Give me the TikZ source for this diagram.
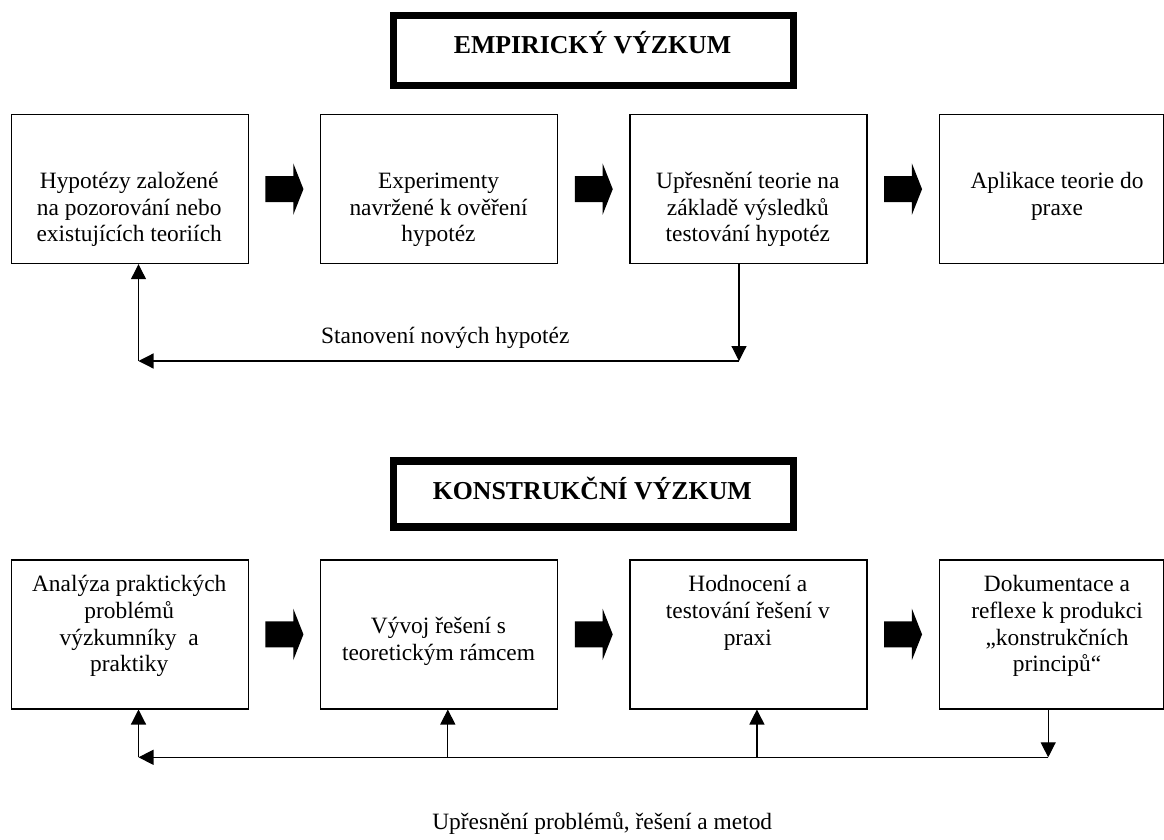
\documentclass[tikz,border=0pt]{standalone}
\usepackage{fontspec}
\setmainfont{Liberation Serif}
\usetikzlibrary{arrows.meta,calc}
\newcommand{\mylines}[1]{\begin{tabular}[t]{@{}c@{}}#1\end{tabular}}
\begin{document}
\begin{tikzpicture}[x=1pt,y=-1pt,
  box/.style={draw,line width=1.2pt,minimum width=237pt,minimum height=149pt,inner sep=0pt,anchor=north west},
  titlebox/.style={draw,line width=7.6pt,minimum width=400pt,inner sep=0pt},
  txt/.style={font=\fontsize{23.4}{26.7}\selectfont,anchor=base,inner sep=0pt},
  ttl/.style={font=\fontsize{25.8}{30}\selectfont\bfseries,anchor=base,inner sep=0pt},
  fb/.style={line width=1.2pt,-{Triangle[length=15pt,width=15pt]}},
  blockarrow/.pic={\fill (-19,13) -- (8.8,13) -- (8.8,25.8) -- (19,0) -- (8.8,-25.8) -- (8.8,-13) -- (-19,-13) -- cycle;}]
\fill[white] (0,0) rectangle (1164,840);
\useasboundingbox (0,0) rectangle (1164,840);

% ---------- EMPIRICKY VYZKUM ----------
\node[titlebox,minimum height=70pt] (t1) at (593.3,50.5) {};
\node[ttl] (t1txt) at (592.5,53.3) {EMPIRICKÝ VÝZKUM};

\node[box] (b1) at (10.7,114) {};
\node[box] (b2) at (320,114) {};
\node[box] (b3) at (629.3,114) {};
\node[box,minimum width=224.4pt] (b4) at (938.6,114) {};

\node[txt] (b1t) at (129.2,188.3) {\mylines{Hypotézy založené\\na pozorování nebo\\existujících teoriích}};
\node[txt] (b2t) at (438.5,188.3) {\mylines{Experimenty\\navržené k ověření\\hypotéz}};
\node[txt] (b3t) at (747.8,188.3) {\mylines{Upřesnění teorie na\\základě výsledků\\testování hypotéz}};
\node[txt] (b4t) at (1057,188.3) {\mylines{Aplikace teorie do\\praxe}};

\path ($(b1.east)!0.5!(b2.west)$) pic {blockarrow};
\path ($(b2.east)!0.5!(b3.west)$) pic {blockarrow};
\path ($(b3.east)!0.5!(b4.west)$) pic {blockarrow};

\coordinate (fa) at (739,361);
\coordinate (fb) at (138.5,361);
\draw[fb] (b3.south -| fa) -- (fa);
\draw[fb] (fa) -- (fb);
\draw[fb] (fb) -- (b1.south -| fb);
\node[txt] (lab1) at (445.3,343.3) {Stanovení nových hypotéz};

% ---------- KONSTRUKCNI VYZKUM ----------
\node[titlebox,minimum height=66pt] (t2) at (593.3,493.7) {};
\node[ttl] (t2txt) at (592.3,499.3) {KONSTRUKČNÍ VÝZKUM};

\node[box] (c1) at (10.7,559.3) {};
\node[box] (c2) at (320,559.3) {};
\node[box] (c3) at (629.3,559.3) {};
\node[box,minimum width=224.4pt] (c4) at (938.6,559.3) {};

\node[txt] (c1t) at (129.2,591.7) {\mylines{Analýza praktických\\problémů\\výzkumníky\ \ a\\praktiky}};
\node[txt] (c2t) at (438.5,633.3) {\mylines{Vývoj řešení s\\teoretickým rámcem}};
\node[txt] (c3t) at (747.8,591.7) {\mylines{Hodnocení a\\testování řešení v\\praxi}};
\node[txt] (c4t) at (1057,591.7) {\mylines{Dokumentace a\\reflexe k produkci\\„konstrukčních\\principů“}};

\path ($(c1.east)!0.5!(c2.west)$) pic {blockarrow};
\path ($(c2.east)!0.5!(c3.west)$) pic {blockarrow};
\path ($(c3.east)!0.5!(c4.west)$) pic {blockarrow};

\coordinate (g1) at (138.5,757.3);
\coordinate (g2) at (447.8,757.3);
\coordinate (g3) at (756.9,757.3);
\coordinate (g4) at (1048.2,757.3);
\draw[fb] (c4.south -| g4) -- (g4);
\draw[fb] (g4) -- (g1);
\draw[fb] (g1) -- (c1.south -| g1);
\draw[fb] (g2) -- (c2.south -| g2);
\draw[fb] (g3) -- (c3.south -| g3);
\node[txt] (lab2) at (602.2,829) {Upřesnění problémů, řešení a metod};
\end{tikzpicture}
\end{document}
